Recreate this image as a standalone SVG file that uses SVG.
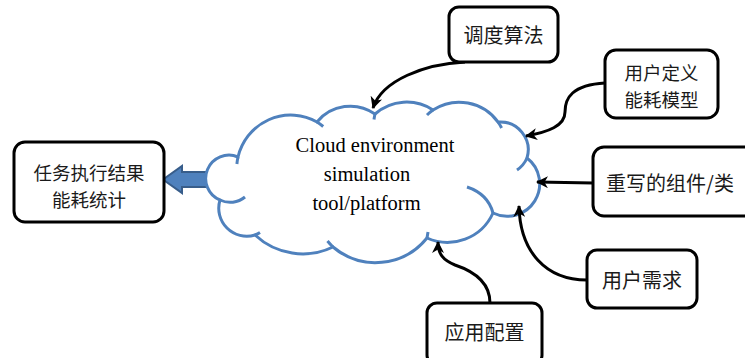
<svg xmlns="http://www.w3.org/2000/svg" width="745" height="358" viewBox="0 0 745 358">
  <defs>
    <style>
      .box { fill: #ffffff; stroke: #000000; stroke-width: 3; }
      .cjk { font-family: "Noto Sans CJK SC", "Noto Sans", sans-serif; font-size: 20px; fill: #1a1a1a; text-anchor: middle; }
      .cjk2 { font-family: "Noto Sans CJK SC", "Noto Sans", sans-serif; font-size: 18.5px; fill: #1a1a1a; text-anchor: middle; }
      .en { font-family: "Liberation Serif", "Times New Roman", serif; font-size: 20.5px; fill: #000000; text-anchor: middle; }
      .conn { fill: none; stroke: #000000; stroke-width: 3; marker-end: url(#arr); }
      .cloud { fill: #ffffff; stroke: #4F81BD; stroke-width: 3; }
      .tail { fill: none; stroke: #4F81BD; stroke-width: 3; }
    </style>
    <marker id="arr" markerUnits="userSpaceOnUse" markerWidth="13" markerHeight="12" refX="11" refY="6" orient="auto">
      <path d="M0,0 L12,6 L0,12 L3.5,6 Z" fill="#000000"/>
    </marker>
  </defs>

  <g id="output-arrow">
    <path d="M163,179.5 L182,166 L182,172 L216,172 L216,187 L182,187 L182,193 Z" fill="#4F81BD" stroke="#385D8A" stroke-width="2"/>
  </g>

  <g id="cloud">
    <path class="cloud" d="M238,157 A54,54 0 0 1 317,122 A43,43 0 0 1 375,114 A48,48 0 0 1 433,110 A48,48 0 0 1 498,122 A28,28 0 0 1 527,158 A32.5,32.5 0 0 1 493,213 A50,50 0 0 1 427,238 A66,66 0 0 1 333,247 A70,70 0 0 1 255,235 A28,28 0 0 1 220,200 A20,20 0 0 1 238,157 Z"/>
    <path class="tail" d="M236.9,164 A54,54 0 0 1 238,157"/>
    <path class="tail" d="M317,122 A54,54 0 0 1 323.2,126.5"/>
    <path class="tail" d="M374,119.5 Q374.5,116 375,114"/>
    <path class="tail" d="M427,115 A48,48 0 0 1 433,110"/>
    <path class="tail" d="M498,122 A48,48 0 0 1 501.6,128"/>
    <path class="tail" d="M527,158 A28,28 0 0 1 517,170"/>
    <path class="tail" d="M467,187 Q488,194 493,213"/>
    <path class="tail" d="M428,232 Q427.5,235 427,238"/>
    <path class="tail" d="M333,247 A66,66 0 0 1 327.5,241"/>
    <path class="tail" d="M260,232.5 A28,28 0 0 1 255,235"/>
    <path class="tail" d="M245,197 A23.3,23.3 0 0 1 220,200"/>
    <text class="en"><tspan x="375" y="152">Cloud environment</tspan><tspan x="367" y="181">simulation</tspan><tspan x="366.5" y="210">tool/platform</tspan></text>
  </g>

  <g id="connectors">
    <path class="conn" d="M465,62 C425,64 382,80 373,108"/>
    <path class="conn" d="M605,83 C572,85 565,98 565,112 C565,126 548,132 526,136"/>
    <path class="conn" d="M593,183 L537,182"/>
    <path class="conn" d="M587,280 C546,280 520,252 519,206"/>
    <path class="conn" d="M490,303 C490,280 470,270 455,265 C443,260 438,254 438,242"/>
  </g>

  <g id="node-result">
    <rect class="box" x="14" y="142" width="150" height="80" rx="11"/>
    <text class="cjk2"><tspan x="89" y="179.5">任务执行结果</tspan><tspan x="89" y="206.5">能耗统计</tspan></text>
  </g>

  <g id="node-scheduling">
    <rect class="box" x="449" y="7" width="109" height="55" rx="10"/>
    <text class="cjk" x="503.5" y="43">调度算法</text>
  </g>

  <g id="node-energy-model">
    <rect class="box" x="605" y="50" width="113" height="68" rx="11"/>
    <text class="cjk2"><tspan x="661.5" y="79.5">用户定义</tspan><tspan x="661.5" y="106.5">能耗模型</tspan></text>
  </g>

  <g id="node-components">
    <rect class="box" x="593" y="147" width="165" height="69" rx="11"/>
    <text class="cjk" x="670" y="191">重写的组件/类</text>
  </g>

  <g id="node-requirements">
    <rect class="box" x="587" y="250" width="110" height="58" rx="10"/>
    <text class="cjk" x="642" y="288">用户需求</text>
  </g>

  <g id="node-config">
    <rect class="box" x="427" y="303" width="115" height="62" rx="10"/>
    <text class="cjk" x="484.5" y="340">应用配置</text>
  </g>
</svg>
